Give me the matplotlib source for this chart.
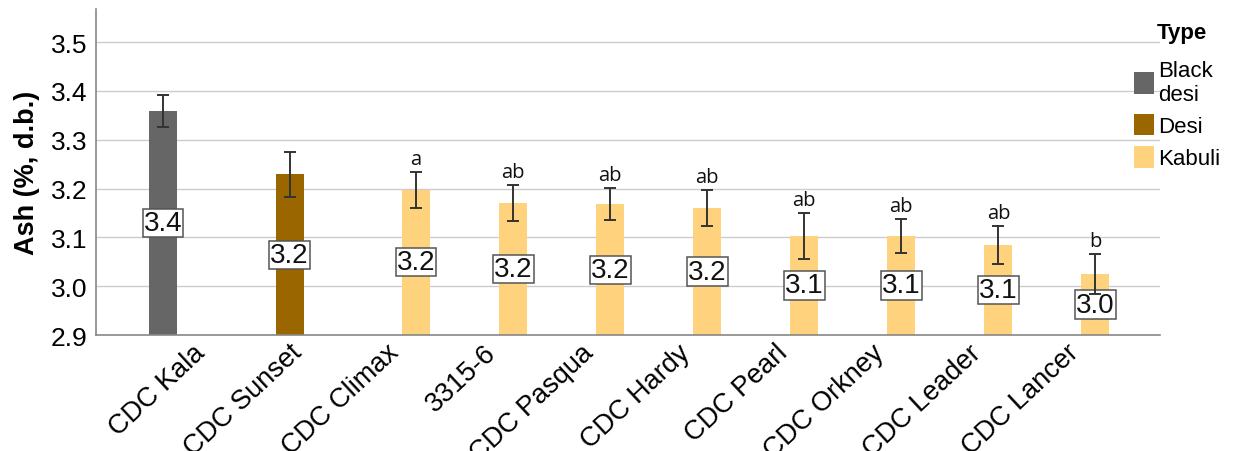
import matplotlib
matplotlib.use("Agg")
import matplotlib.pyplot as plt
import numpy as np
from matplotlib.patches import Patch

plt.rcParams["font.family"] = ["Liberation Sans", "DejaVu Sans"]

cultivars = ["CDC Kala", "CDC Sunset", "CDC Climax", "3315-6", "CDC Pasqua",
             "CDC Hardy", "CDC Pearl", "CDC Orkney", "CDC Leader", "CDC Lancer"]
types = ["Black desi", "Desi", "Kabuli", "Kabuli", "Kabuli",
         "Kabuli", "Kabuli", "Kabuli", "Kabuli", "Kabuli"]
ash = [3.359, 3.229, 3.198, 3.170, 3.168, 3.160, 3.103, 3.103, 3.084, 3.025]
err = [0.033, 0.046, 0.037, 0.037, 0.033, 0.037, 0.047, 0.035, 0.039, 0.041]
letters = ["", "", "a", "ab", "ab", "ab", "ab", "ab", "ab", "b"]

type_order = ["Black desi", "Desi", "Kabuli"]
type_labels = ["Black\ndesi", "Desi", "Kabuli"]
type_colors = {"Black desi": "#666666", "Desi": "#996600", "Kabuli": "#ffd27d"}

YMIN = 2.9
slot = 0.304
bw = 0.29

fig = plt.figure(figsize=(12.37, 4.52), dpi=100)
ax = fig.add_axes([0.0776, 0.2566, 0.9378 - 0.0776, 0.9779 - 0.2566])

idx = np.arange(len(cultivars))
xs = np.array([i + (type_order.index(t) - 1) * slot for i, t in zip(idx, types)])
bottoms = np.full(len(ash), YMIN)
heights = np.array(ash) - YMIN
cols = [type_colors[t] for t in types]
ax.bar(xs, heights, bw, bottom=bottoms, color=cols, zorder=2)
ax.errorbar(xs, ash, yerr=err, fmt="none", ecolor="#333333", elinewidth=1.4,
            capsize=4, capthick=1.4, zorder=5)

for x, v, e, lt in zip(xs, ash, err, letters):
    ax.text(x, (YMIN + v) / 2, f"{v:.1f}", ha="center", va="center", fontsize=20,
            color="#111111", zorder=4,
            bbox=dict(boxstyle="square,pad=0.04", fc="white", ec="#555555", lw=1.1))
    if lt:
        ax.annotate(lt, (x, v + e), textcoords="offset points", xytext=(0, 2),
                    ha="center", va="bottom", fontsize=14.5, family="Open Sans", color="#111111")

ax.set_ylim(YMIN, 3.568)
ax.set_xlim(-0.995, 9.97)
ax.set_yticks([2.9, 3.0, 3.1, 3.2, 3.3, 3.4, 3.5])
ax.set_yticklabels([f"{t:.1f}" for t in [2.9, 3.0, 3.1, 3.2, 3.3, 3.4, 3.5]], fontsize=19)
ax.set_xticks(idx)
ax.set_xticklabels(cultivars, fontsize=19.5, rotation=43, ha="right", rotation_mode="anchor")
ax.tick_params(axis="both", length=0, pad=6)
ax.tick_params(axis="x", pad=3)
ax.grid(axis="y", color="#cccccc", lw=1, zorder=0)
ax.set_axisbelow(True)
for s in ["top", "right"]:
    ax.spines[s].set_visible(False)
for s in ["left", "bottom"]:
    ax.spines[s].set_color("#888888")
    ax.spines[s].set_linewidth(1.2)
ax.set_ylabel("Ash (%, d.b.)", fontsize=19.5, weight="bold")
ax.yaxis.set_label_coords(-0.053, 0.5)

handles = [Patch(fc=type_colors[t], label=l) for t, l in zip(type_order, type_labels)]
fig.text(0.935, 0.925, "Type", fontsize=16, weight="bold", ha="left", va="center")
fig.legend(handles=handles, loc="upper left", bbox_to_anchor=(0.917, 0.865), frameon=False,
           fontsize=16, handlelength=0.9, handleheight=1.1, handletextpad=0.15,
           labelspacing=0.4, borderpad=0, borderaxespad=0)

fig.savefig("out.png", dpi=100)
